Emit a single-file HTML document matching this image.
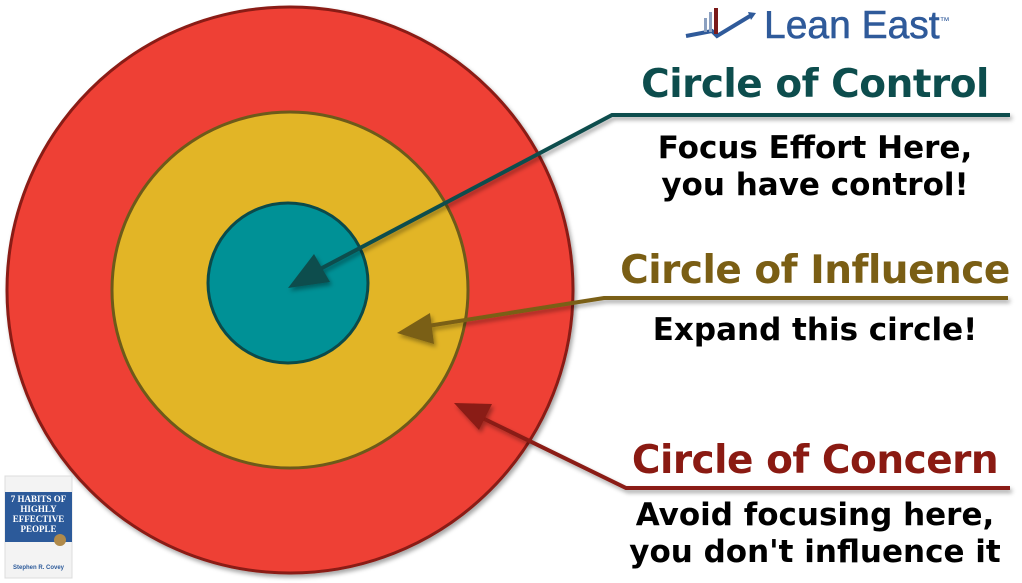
<!DOCTYPE html>
<html><head><meta charset="utf-8"><style>
body{margin:0;width:1022px;height:583px;background:#fff;overflow:hidden;position:relative;font-family:"DejaVu Sans","Liberation Sans",sans-serif}
.t{position:absolute;text-align:center;white-space:nowrap}
.h{font-size:39px;font-weight:bold;letter-spacing:-0.5px}
.s{font-size:31px;font-weight:bold;color:#000;line-height:37px}
</style></head><body>
<svg width="1022" height="583" style="position:absolute;left:0;top:0">
<defs><filter id="sh"><feDropShadow dx="2" dy="3" stdDeviation="2" flood-opacity="0.35"/></filter></defs>
<circle cx="290" cy="290" r="283" fill="#ee3f36" stroke="#8a1a12" stroke-width="3" filter="url(#sh)"/>
<circle cx="290" cy="290" r="178" fill="#e2b526" stroke="#6d5a1a" stroke-width="3"/>
<circle cx="288" cy="283" r="80" fill="#009196" stroke="#0b4a4a" stroke-width="3"/>
<g filter="url(#sh)">
<polyline points="1010,115 612,115 305,277" fill="none" stroke="#0d4d4d" stroke-width="4"/>
<polygon points="288,288 314,254 330,282" fill="#0d4d4d"/>
<polyline points="1008,298 604,298 415,328" fill="none" stroke="#7a5e14" stroke-width="4"/>
<polygon points="397,333 430,313 434,344" fill="#7a5e14"/>
<polyline points="1010,488 626,488 470,412" fill="none" stroke="#8a1a12" stroke-width="4"/>
<polygon points="454,403 492,404 479,430" fill="#8a1a12"/>
</g>
<g>
<polyline points="686,36 712,31 717,36 750,16" fill="none" stroke="#2f5a9a" stroke-width="4"/>
<rect x="704" y="18" width="3" height="14" fill="#8ba0c0"/>
<rect x="709" y="12" width="3" height="20" fill="#8ba0c0"/>
<rect x="714" y="8" width="4" height="26" fill="#7a1a1a"/>
<polygon points="748,12 756,13 751,20" fill="#2f5a9a"/>
</g>
<rect x="5" y="476" width="67" height="102" fill="#f3f3f3" stroke="#ddd"/>
<rect x="5" y="492" width="67" height="50" fill="#2c5a9a"/>
<circle cx="60" cy="540" r="6" fill="#b08a4a"/>
</svg>
<div class="t" style="left:764px;top:4px;font-size:39px;color:#2f5a9a;font-family:'Liberation Sans',sans-serif;-webkit-text-stroke:0.6px #2f5a9a">Lean East<sup style="font-size:10px;-webkit-text-stroke:0">™</sup></div>
<div class="t h" style="left:600px;width:430px;top:62px;color:#0d4d4d">Circle of Control</div>
<div class="t s" style="left:600px;width:430px;top:130px">Focus Effort Here,<br>you have control!</div>
<div class="t h" style="left:600px;width:430px;top:248px;color:#7a5e14">Circle of Influence</div>
<div class="t s" style="left:600px;width:430px;top:312px">Expand this circle!</div>
<div class="t h" style="left:600px;width:430px;top:438px;color:#8a1a12">Circle of Concern</div>
<div class="t s" style="left:600px;width:430px;top:497px">Avoid focusing here,<br>you don't influence it</div>
<div class="t" style="left:5px;width:67px;top:494px;color:#fff;font:bold 9px 'Liberation Serif',serif;line-height:10px">7 HABITS OF<br>HIGHLY<br>EFFECTIVE<br>PEOPLE</div>
<div class="t" style="left:5px;width:67px;top:565px;color:#2c5a9a;font:bold 6px 'Liberation Sans',sans-serif">Stephen R. Covey</div>
</body></html>
